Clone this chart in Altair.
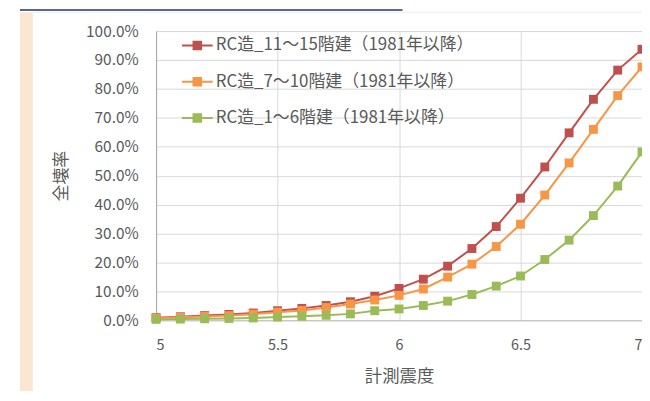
import altair as alt
import pandas as pd

intensity = [5.0, 5.1, 5.2, 5.3, 5.4, 5.5, 5.6, 5.7, 5.8, 5.9, 6.0,
             6.1, 6.2, 6.3, 6.4, 6.5, 6.6, 6.7, 6.8, 6.9, 7.0]

names = ["RC造_11～15階建（1981年以降）",
         "RC造_7～10階建（1981年以降）",
         "RC造_1～6階建（1981年以降）"]
colors = ["#C0504D", "#F79646", "#9BBB59"]

rc_11_15 = [0.9, 1.2, 1.6, 2.0, 2.5, 3.3, 4.1, 5.1, 6.4, 8.3, 11.0,
            14.2, 18.7, 24.8, 32.4, 42.2, 53.0, 64.8, 76.4, 86.5, 93.7]
rc_7_10 = [0.8, 1.0, 1.3, 1.6, 2.1, 2.8, 3.4, 4.4, 5.6, 7.0, 8.6,
           10.8, 14.9, 19.4, 25.5, 33.2, 43.3, 54.4, 66.0, 77.7, 87.6]
rc_1_6 = [0.3, 0.4, 0.5, 0.6, 0.8, 1.1, 1.4, 1.7, 2.2, 3.3, 3.9,
          5.1, 6.6, 8.9, 11.8, 15.3, 21.0, 27.7, 36.2, 46.4, 58.2]

x_ticks = [5, 5.5, 6, 6.5, 7]
y_ticks = [0, 0.1, 0.2, 0.3, 0.4, 0.5, 0.6, 0.7, 0.8, 0.9, 1.0]

rows = []
for name, vals in zip(names, [rc_11_15, rc_7_10, rc_1_6]):
    for i, (xv, yv) in enumerate(zip(intensity, vals)):
        rows.append({"series": name, "x": xv, "y": yv / 100.0,
                     "idx": i, "s": names.index(name)})
df = pd.DataFrame(rows)

FONT = "Noto Sans CJK JP"
TXT = "#595959"

xs = alt.X("x:Q", scale=alt.Scale(domain=[5, 7], nice=False),
           axis=alt.Axis(values=x_ticks, title="計測震度", format="~g",
                         ticks=False, labelPadding=18, labelFontSize=14.5,
                         labelColor=TXT, labelFont=FONT,
                         titleFont=FONT, titleFontSize=17.5, titleColor=TXT,
                         titleFontWeight="normal", titleY=57,
                         titleBaseline="middle",
                         domainColor="#BFBFBF", gridColor="#D9D9D9"))
ys = alt.Y("y:Q", scale=alt.Scale(domain=[0, 1], nice=False),
           axis=alt.Axis(values=y_ticks, format=".1%", title="全壊率",
                         ticks=False, labelPadding=18, labelFontSize=15.5,
                         labelColor=TXT, labelFont=FONT,
                         titleFont=FONT, titleFontSize=17, titleColor=TXT,
                         titleFontWeight="normal", titleX=-95, titleY=145.5,
                         titleAngle=-90, titleBaseline="middle",
                         titleAlign="center",
                         domainColor="#A6A6A6", gridColor="#D9D9D9"))

cscale = alt.Scale(domain=names, range=colors)

sym = "M-2,-0.12H2V0.12H-2Z M-0.62,-0.62H0.62V0.62H-0.62Z"

lines = alt.Chart(df).mark_line(strokeWidth=2).encode(
    x=xs, y=ys,
    color=alt.Color("series:N", scale=cscale, legend=None),
    detail="series:N",
    order="idx:Q",
)
points = alt.Chart(df).mark_point(shape="square", filled=True, size=80,
                                  opacity=1).encode(
    x=xs, y=ys,
    color=alt.Color("series:N", scale=cscale, sort=names,
                    legend=alt.Legend(title=None, orient="none",
                                      legendX=33, legendY=6, padding=0,
                                      symbolType=sym, symbolSize=240,
                                      symbolStrokeWidth=0,
                                      labelOffset=10, rowPadding=18.5,
                                      labelLimit=0,
                                      labelFontSize=17, labelColor=TXT,
                                      labelFont=FONT)),
    order="s:Q",
)

deco = pd.DataFrame({"k": [0]})
strip = alt.Chart(deco).mark_rect(color="#FBE6D1").encode(
    x=alt.value(-137), x2=alt.value(-124),
    y=alt.value(-19), y2=alt.value(400))
banner = alt.Chart(deco).mark_rect(color="#1F3864").encode(
    x=alt.value(-137), x2=alt.value(248),
    y=alt.value(-22), y2=alt.value(-20.5))
topline = alt.Chart(deco).mark_rule(color="#EBEBEB", strokeWidth=1).encode(
    x=alt.value(-124), x2=alt.value(500), y=alt.value(-19))

chart = alt.layer(strip, banner, topline, lines, points).resolve_legend(
    color="independent"
).properties(
    width=489, height=291,
    padding={"left": 149, "top": 22, "right": 0, "bottom": 70},
    autosize=alt.AutoSizeParams(type="none"),
).configure_view(stroke=None).configure(background="white")

chart.save("out.html", embed_options={"renderer": "svg", "actions": False})
